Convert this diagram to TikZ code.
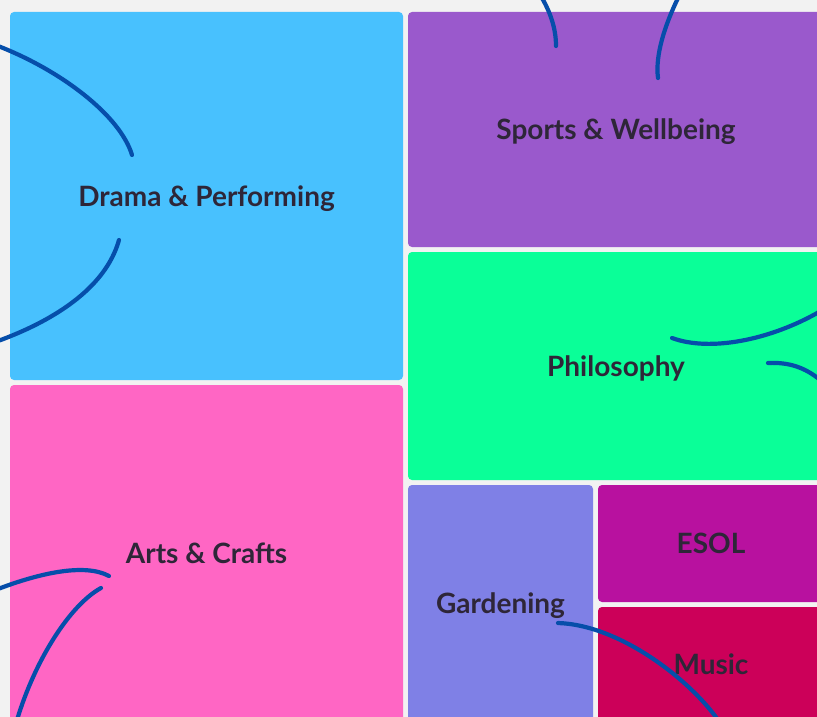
\documentclass[tikz,border=0pt]{standalone}
\usepackage{fontspec}
\setmainfont{Lato}
\usetikzlibrary{positioning}

\definecolor{bg}{RGB}{242,242,242}
\definecolor{ink}{RGB}{46,38,56}
\definecolor{pen}{RGB}{6,78,170}
\definecolor{dramablue}{RGB}{72,193,254}
\definecolor{artspink}{RGB}{255,102,196}
\definecolor{sportspurple}{RGB}{154,89,204}
\definecolor{philogreen}{RGB}{10,255,152}
\definecolor{gardenviolet}{RGB}{127,128,230}
\definecolor{esolmagenta}{RGB}{184,17,159}
\definecolor{musicred}{RGB}{204,0,89}

\begin{document}
\begin{tikzpicture}[x=1pt,y=-1pt,
	tile/.style={rectangle, rounded corners=4pt, inner sep=0pt, text=ink,
		text height=20pt, text depth=0pt,
		font=\bfseries\fontsize{28}{33}\selectfont},
	stroke/.style={draw=pen, line width=4.2pt, line cap=round}]
		\useasboundingbox (0,0) rectangle (817,717);
		\fill[bg] (0,0) rectangle (817,717);
		\clip (0,0) rectangle (817,717);

		% tiles
		\node (drama) [tile, fill=dramablue, minimum width=393pt, minimum height=368pt] at (206.5,196) {Drama \& Performing};
		\node (arts) [tile, fill=artspink, minimum width=393pt, minimum height=336pt] at (206.5,553) {Arts \& Crafts};
		\node (sports) [tile, fill=sportspurple, minimum width=416pt, minimum height=235pt] at (616,129.5) {Sports \& Wellbeing};
		\node (philo) [tile, fill=philogreen, minimum width=416pt, minimum height=228pt] at (616,366) {Philosophy};
		\node (garden) [tile, fill=gardenviolet, minimum width=185pt, minimum height=236pt] at (500.5,603) {Gardening};
		\node (esol) [tile, fill=esolmagenta, minimum width=226pt, minimum height=117pt] at (711,543.5) {ESOL};
		\node (music) [tile, fill=musicred, minimum width=226pt, minimum height=114pt] at (711,664) {Music};

		% strokes
		\draw[stroke] (-2,46) .. controls (60,70) and (120,115) .. (132,155);
		\draw[stroke] (119,240) .. controls (105,290) and (50,322) .. (-2,341);
		\draw[stroke] (542,-2) .. controls (550,12) and (556,28) .. (556,46);
		\draw[stroke] (678,-2) .. controls (665,25) and (655,55) .. (658,78);
		\draw[stroke] (672,338) .. controls (710,352) and (770,340) .. (819,312);
		\draw[stroke] (768,363) .. controls (790,362) and (805,368) .. (819,379);
		\draw[stroke] (-2,589) .. controls (40,573) and (85,563) .. (109,576);
		\draw[stroke] (101,588) .. controls (70,605) and (35,660) .. (17,720);
		\draw[stroke] (558,623) .. controls (620,625) and (690,680) .. (718,720);
	\end{tikzpicture}
\end{document}
